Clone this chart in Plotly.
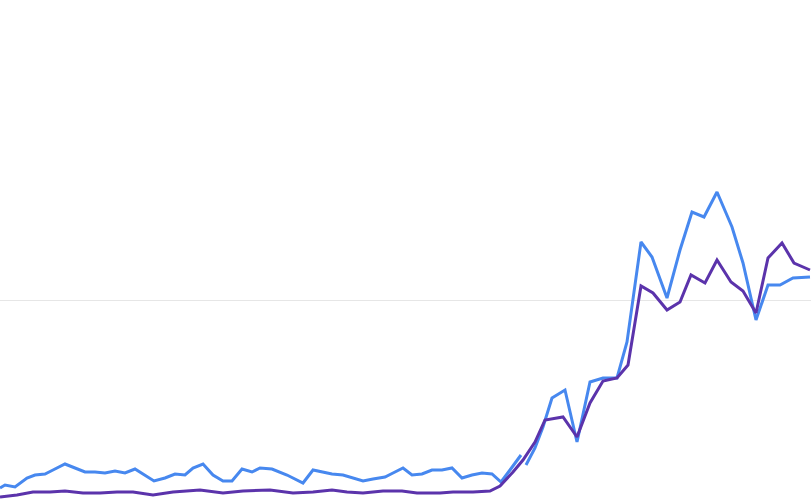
import plotly.graph_objects as go

# Series A (blue) — x in arbitrary time units, y on a 0-125 index scale
blue_x = [0, 0.5, 1.5, 2.7, 3.5, 4.5, 5.3, 6.5, 7.5, 8.5, 9.5, 10.5, 11.5, 12.5, 13.5, 14.5,
          15.4, 16.5, 17.5, 18.5, 19.3, 20.3, 21.3, 22.3, 23.2, 24.2, 25.2, 26.0, 27.2, 28.7,
          30.3, 31.3, 32.2, 33.2, 34.3, 35.3, 36.3, 37.3, 38.5, 39.3, 40.3, 41.2, 42.2, 43.2,
          44.2, 45.2, 46.2, 47.2, 48.2, 49.2, 50.1, 51.0, 52.1, None,
          52.6, 53.5, 54.3, 55.2, 56.5, 57.7, 59.0, 60.3, 61.7, 62.7, 64.1, 65.2, 66.7, 68.0,
          69.2, 70.4, 71.7, 73.2, 74.3, 75.6, 76.8, 78.0, 79.3, 81.0]
blue_y = [3.0, 3.75, 3.25, 5.5, 6.25, 6.5, 7.5, 9.0, 8.0, 7.0, 7.0, 6.75, 7.25, 6.75, 7.75, 6.25,
          4.75, 5.5, 6.5, 6.25, 8.0, 9.0, 6.25, 4.75, 4.75, 7.75, 7.0, 8.0, 7.75, 6.25,
          4.25, 7.5, 7.0, 6.5, 6.25, 5.5, 4.75, 5.25, 5.75, 6.75, 8.0, 6.25, 6.5, 7.5,
          7.5, 8.0, 5.5, 6.25, 6.75, 6.5, 4.5, 7.5, 11.25, None,
          8.75, 13.0, 18.25, 25.5, 27.5, 14.5, 29.5, 30.5, 30.5, 39.5, 64.5, 60.75, 50.5, 62.5,
          72.0, 70.75, 77.0, 68.25, 59.25, 45.0, 53.75, 53.75, 55.5, 55.75]

# Series B (purple)
purple_x = [0, 1.7, 3.3, 5.0, 6.5, 8.3, 10.0, 11.7, 13.3, 15.3, 17.3, 20.0, 22.3, 24.3, 27.0,
            29.3, 31.3, 33.2, 34.7, 36.3, 38.3, 40.2, 41.7, 44.0, 45.3, 47.3, 49.0, 50.0, 51.3,
            52.3, 53.5, 54.5, 56.3, 57.7, 59.0, 60.3, 61.7, 62.8, 64.1, 65.3, 66.7, 68.0, 69.1,
            70.5, 71.7, 73.1, 74.3, 75.6, 76.8, 78.2, 79.4, 81.0]
purple_y = [0.75, 1.25, 2.0, 2.0, 2.25, 1.75, 1.75, 2.0, 2.0, 1.25, 2.0, 2.5, 1.75, 2.25, 2.5,
            1.75, 2.0, 2.5, 2.0, 1.75, 2.25, 2.25, 1.75, 1.75, 2.0, 2.0, 2.25, 3.5, 7.0,
            10.0, 14.5, 20.0, 20.75, 15.75, 24.25, 29.75, 30.5, 33.75, 53.5, 51.75, 47.5, 49.5, 56.25,
            54.25, 60.0, 54.5, 52.25, 46.75, 60.5, 64.25, 59.25, 57.5]

grid_values = [50]

fig = go.Figure()
fig.add_trace(go.Scatter(x=blue_x, y=blue_y, mode="lines", connectgaps=False,
                         line=dict(color="#4788ef", width=3), hoverinfo="skip"))
fig.add_trace(go.Scatter(x=purple_x, y=purple_y, mode="lines",
                         line=dict(color="#5b33ab", width=3), hoverinfo="skip"))

fig.update_layout(
    width=811, height=500,
    margin=dict(l=0, r=0, t=0, b=0),
    paper_bgcolor="white", plot_bgcolor="white",
    showlegend=False,
    xaxis=dict(range=[0, 81.1], visible=False, fixedrange=True),
    yaxis=dict(range=[0, 125], showticklabels=False, tickvals=grid_values,
               showgrid=True, gridcolor="#e6e6e6", gridwidth=1,
               zeroline=False, showline=False, ticks="", fixedrange=True),
)

fig.write_html("out.html", config={"displayModeBar": False},
               post_script="document.body.style.margin='0';document.body.style.overflow='hidden';")
